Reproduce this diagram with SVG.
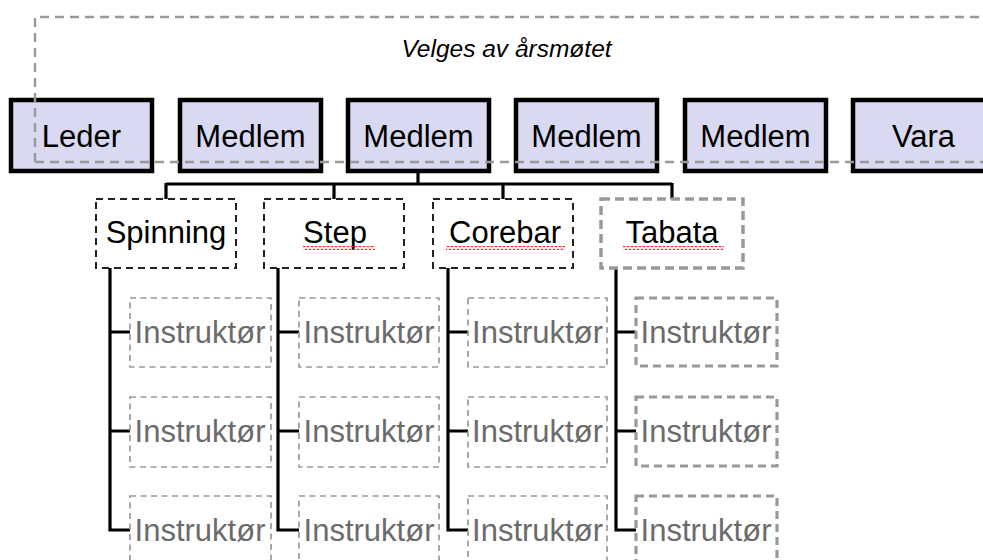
<svg xmlns="http://www.w3.org/2000/svg" width="983" height="560" viewBox="0 0 983 560">
<style>
text{font-family:"Liberation Sans",Arial,sans-serif;font-size:31px;text-anchor:middle}
.top{fill:#d9d9f1;stroke:#000;stroke-width:4.5}
.sub{fill:#fff;stroke:#222;stroke-width:2;stroke-dasharray:7 5}
.subg{fill:#fff;stroke:#999;stroke-width:3.5;stroke-dasharray:9 5}
.ins{fill:#fff;stroke:#999;stroke-width:1.7;stroke-dasharray:6 4.5}
.insg{fill:#fff;stroke:#999;stroke-width:3.2;stroke-dasharray:8 5}
.it{fill:#6b6b6b}
.con{fill:none;stroke:#000;stroke-width:3.2}
.sq{fill:url(#wave)}
</style>
<defs>
<pattern id="wave" width="4" height="4" patternUnits="userSpaceOnUse">
<path d="M0 3 L2 1 L4 3" fill="none" stroke="#e33" stroke-width="1.2"/>
</pattern>
</defs>
<g id="connectors">
<path class="con" d="M418 171V184M166 184H672M166 183V199M334 183V199M503 183V199M672 183V199"/>
<path class="con" d="M110 268V530H130M110 332H130M110 431H130"/>
<path class="con" d="M278 268V530H299M278 332H299M278 431H299"/>
<path class="con" d="M448 268V530H468M448 332H468M448 431H468"/>
<path class="con" d="M616 268V530H636M616 332H636M616 431H636"/>
</g>
<g id="leder"><rect class="top" x="11" y="100" width="141" height="71"/><text x="81.5" y="147">Leder</text></g>
<g id="medlem1"><rect class="top" x="180" y="100" width="141" height="71"/><text x="250.5" y="147">Medlem</text></g>
<g id="medlem2"><rect class="top" x="348" y="100" width="141" height="71"/><text x="418.5" y="147">Medlem</text></g>
<g id="medlem3"><rect class="top" x="516" y="100" width="141" height="71"/><text x="586.5" y="147">Medlem</text></g>
<g id="medlem4"><rect class="top" x="685" y="100" width="141" height="71"/><text x="755.5" y="147">Medlem</text></g>
<g id="vara"><rect class="top" x="853" y="100" width="141" height="71"/><text x="923.5" y="147">Vara</text></g>
<g id="valg">
<path d="M35 162V17H990M35 162H990" fill="none" stroke="#999" stroke-width="2.4" stroke-dasharray="9 6"/>
<text x="506.5" y="57" style="font-size:24.5px;font-style:italic">Velges av årsmøtet</text>
</g>
<g id="spinning"><rect class="sub" x="96" y="199" width="140" height="69"/><text x="166" y="243">Spinning</text></g>
<g id="step"><rect class="sub" x="264" y="199" width="140" height="69"/><text x="335" y="243">Step</text><rect class="sq" x="303" y="246" width="72" height="4"/></g>
<g id="corebar"><rect class="sub" x="433" y="199" width="140" height="69"/><text x="505" y="243">Corebar</text><rect class="sq" x="446" y="246" width="119" height="4"/></g>
<g id="tabata"><rect class="subg" x="601" y="199" width="142" height="69"/><text x="672" y="243">Tabata</text><rect class="sq" x="623" y="246" width="101" height="4"/></g>
<g id="instr-1-1"><rect class="ins" x="130" y="298" width="141" height="69"/><text class="it" x="200" y="343">Instruktør</text></g>
<g id="instr-1-2"><rect class="ins" x="130" y="397" width="141" height="70"/><text class="it" x="200" y="442">Instruktør</text></g>
<g id="instr-1-3"><rect class="ins" x="130" y="496" width="141" height="70"/><text class="it" x="200" y="541">Instruktør</text></g>
<g id="instr-2-1"><rect class="ins" x="299" y="298" width="140" height="69"/><text class="it" x="369" y="343">Instruktør</text></g>
<g id="instr-2-2"><rect class="ins" x="299" y="397" width="140" height="70"/><text class="it" x="369" y="442">Instruktør</text></g>
<g id="instr-2-3"><rect class="ins" x="299" y="496" width="140" height="70"/><text class="it" x="369" y="541">Instruktør</text></g>
<g id="instr-3-1"><rect class="ins" x="468" y="298" width="139" height="69"/><text class="it" x="537.5" y="343">Instruktør</text></g>
<g id="instr-3-2"><rect class="ins" x="468" y="397" width="139" height="70"/><text class="it" x="537.5" y="442">Instruktør</text></g>
<g id="instr-3-3"><rect class="ins" x="468" y="496" width="139" height="70"/><text class="it" x="537.5" y="541">Instruktør</text></g>
<g id="instr-4-1"><rect class="insg" x="636" y="298" width="141" height="68"/><text class="it" x="706" y="343">Instruktør</text></g>
<g id="instr-4-2"><rect class="insg" x="636" y="397" width="141" height="69"/><text class="it" x="706" y="442">Instruktør</text></g>
<g id="instr-4-3"><rect class="insg" x="636" y="496" width="141" height="70"/><text class="it" x="706" y="541">Instruktør</text></g>
</svg>
